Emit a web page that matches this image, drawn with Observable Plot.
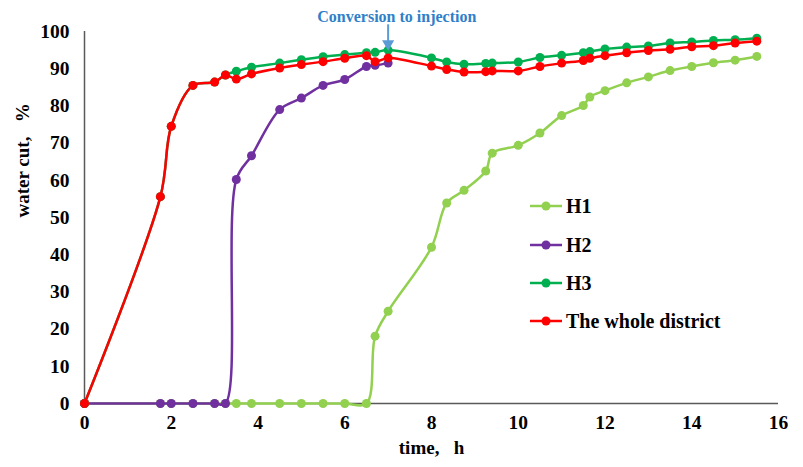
<!DOCTYPE html>
<html>
<head>
<meta charset="utf-8">
<script src="https://cdn.jsdelivr.net/npm/d3@7"></script>
<script src="https://cdn.jsdelivr.net/npm/@observablehq/plot@0.6"></script>
<style>
  html, body { margin: 0; padding: 0; background: #fff; }
  #chart { width: 803px; height: 467px; }
</style>
</head>
<body>
<div id="chart"></div>
<script>
// ---- data ----
const times = [0, 1.75, 2, 2.5, 3, 3.25, 3.5, 3.85, 4.5, 5, 5.5, 6, 6.5, 6.7, 7,
  8, 8.35, 8.75, 9.25, 9.4, 10, 10.5, 11, 11.5, 11.65, 12, 12.5, 13, 13.5, 14, 14.5, 15, 15.5];
const h1 = [0, 0, 0, 0, 0, 0, 0, 0, 0, 0, 0, 0, 0, 18.1, 24.8,
  42.0, 53.9, 57.3, 62.5, 67.3, 69.4, 72.7, 77.4, 80.1, 82.4, 84.1, 86.2, 87.8, 89.5, 90.6, 91.6, 92.3, 93.3];
const h2 = [0, 0, 0, 0, 0, 0, 60.2, 66.6, 79.0, 82.1, 85.5, 87.1, 90.6, 90.9, 91.5];
const h3 = [0, 55.6, 74.5, 85.5, 86.4, 88.3, 89.3, 90.4, 91.5, 92.4, 93.2, 93.8, 94.3, 94.4, 95.0,
  92.9, 91.8, 91.2, 91.4, 91.5, 91.8, 93.0, 93.6, 94.3, 94.6, 95.3, 95.8, 96.1, 96.9, 97.2, 97.6, 97.8, 98.2];
const whole = [0, 55.6, 74.5, 85.5, 86.4, 88.3, 87.2, 88.6, 90.2, 91.1, 91.9, 92.8, 93.5, 91.9, 92.9,
  90.7, 89.8, 89.1, 89.2, 89.4, 89.4, 90.6, 91.5, 92.2, 92.8, 93.5, 94.3, 94.9, 95.2, 95.9, 96.2, 96.9, 97.4];
const seriesNames = ["H1", "H2", "H3", "The whole district"];
const seriesColors = ["#92D050", "#7030A0", "#00B050", "#FF0000"];
const xTicks = [0, 2, 4, 6, 8, 10, 12, 14, 16];
const yTicks = [0, 10, 20, 30, 40, 50, 60, 70, 80, 90, 100];
const xLabel = "time,\u00a0\u00a0\u00a0h";
const yLabel = "water cut,\u00a0\u00a0\u00a0%";
const annotation = [{t: 7, top: 101.8, tip: 95.6, labelT: 7.2, labelY: 103.8, label: "Conversion to injection"}];

// ---- build table ----
const seriesValues = [h1, h2, h3, whole];
const rows = [];
seriesValues.forEach((vals, i) => {
  vals.forEach((v, j) => rows.push({series: seriesNames[i], t: times[j], v}));
});

const font = "'Liberation Serif', 'Times New Roman', serif";
const marks = [
  Plot.axisY({ticks: yTicks, tickSize: 0, tickPadding: 15, label: null, fontSize: 19.5, fontWeight: "bold"}),
  Plot.axisX({ticks: xTicks, tickSize: 0, tickPadding: 12, label: null, fontSize: 19.5, fontWeight: "bold"}),
  Plot.ruleX([0], {y1: 0, y2: 100, stroke: "#595959", strokeWidth: 1.5}),
  Plot.ruleY([0], {stroke: "#595959", strokeWidth: 1.5})
];
seriesNames.forEach((name, i) => {
  const d = rows.filter(r => r.series === name);
  marks.push(Plot.line(d, {x: "t", y: "v", stroke: seriesColors[i], strokeWidth: 2.5, curve: "catmull-rom"}));
  marks.push(Plot.dot(d, {x: "t", y: "v", fill: seriesColors[i], r: 4.5}));
});
marks.push(
  Plot.text([xLabel], {frameAnchor: "bottom", dy: 50, fontSize: 19, fontWeight: "bold", fill: "#000"}),
  Plot.text([yLabel], {frameAnchor: "left", dx: -62, rotate: -90, fontSize: 19, fontWeight: "bold", fill: "#000"}),
  Plot.ruleX(annotation, {x: "t", y1: "top", y2: "tip", stroke: "#5B9BD5", strokeWidth: 2, clip: false}),
  Plot.dot(annotation, {x: "t", y: "tip", symbol: "triangle", rotate: 180, r: 4.5, fill: "#5B9BD5", dy: -4}),
  Plot.text(annotation, {x: "labelT", y: "labelY", text: "label", fill: "#2F7FC9", fontSize: 16, fontWeight: "bold"})
);

const svg = Plot.plot({
  width: 803, height: 467,
  marginLeft: 84, marginRight: 25, marginTop: 31, marginBottom: 64,
  x: {domain: [0, 16]},
  y: {domain: [0, 100]},
  style: {fontFamily: font, color: "#000", background: "#fff", overflow: "visible"},
  marks
});

// legend drawn inside the plot area
const g = d3.select(svg).append("g").attr("font-family", font).attr("font-weight", "bold")
  .attr("font-size", 20).attr("text-anchor", "start");
const legendY = [206, 245, 283, 321];
seriesNames.forEach((name, i) => {
  const y = legendY[i];
  g.append("line").attr("x1", 530).attr("x2", 562).attr("y1", y).attr("y2", y)
    .attr("stroke", seriesColors[i]).attr("stroke-width", 2.5);
  g.append("circle").attr("cx", 546).attr("cy", y).attr("r", 4.5).attr("fill", seriesColors[i]);
  g.append("text").attr("x", 566).attr("y", y).attr("dy", "0.35em").attr("fill", "#000")
    .attr("text-anchor", "start").text(name);
});

document.getElementById("chart").append(svg);
</script>
</body>
</html>
